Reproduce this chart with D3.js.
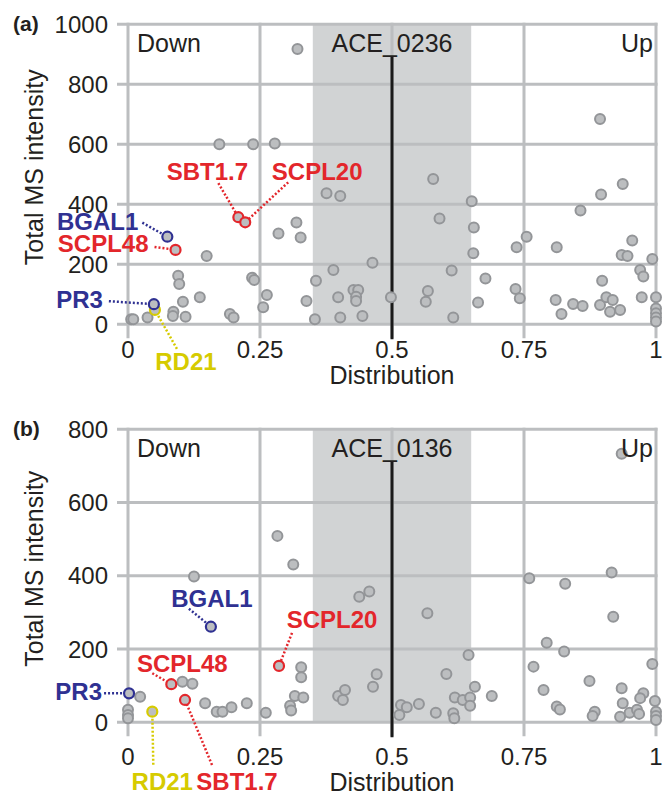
<!DOCTYPE html>
<html>
<head>
<meta charset="utf-8">
<script src="https://cdn.jsdelivr.net/npm/d3@7"></script>
<style>
  body { margin: 0; background: #fff; }
  svg { font-family: "Liberation Sans", Arial, sans-serif; }
</style>
</head>
<body>
<svg id="chart" width="671" height="796"></svg>
<script>
// tick labels
const xTicks = [0, 0.25, 0.5, 0.75, 1];
const yTicksA = [0, 200, 400, 600, 800, 1000];
const yTicksB = [0, 200, 400, 600, 800];

// panel (a) ACE_0236 - other proteins
const distA = [0.321, 0.173, 0.237, 0.278, 0.376, 0.402, 0.894, 0.937, 0.896, 0.578, 0.651,
  0.149, 0.095, 0.097, 0.104, 0.136, 0.086, 0.085, 0.109, 0.037, 0.006, 0.010, 0.193, 0.200,
  0.235, 0.239, 0.263, 0.256, 0.285, 0.319, 0.327, 0.338, 0.356, 0.389, 0.354,
  0.590, 0.655, 0.654, 0.613, 0.463, 0.398, 0.427, 0.436, 0.432, 0.432, 0.402, 0.444, 0.498,
  0.568, 0.564, 0.616, 0.663, 0.677, 0.755, 0.736, 0.734, 0.742, 0.857, 0.812, 0.955, 0.935,
  0.946, 0.993, 0.970, 0.976, 0.898, 0.973, 0.810, 0.821, 0.843, 0.861, 0.894, 0.906, 0.918,
  0.913, 0.932, 1, 1, 1, 1, 1];
const intensityA = [918, 600, 600, 603, 437, 428, 684, 468, 433, 484, 410,
  228, 162, 134, 75, 90, 42, 28, 25, 23, 17, 17, 34, 23,
  155, 148, 98, 57, 303, 339, 289, 78, 145, 181, 17,
  353, 323, 237, 179, 205, 90, 114, 114, 92, 78, 23, 28, 90,
  111, 75, 23, 73, 153, 292, 257, 118, 87, 379, 257, 279, 231,
  228, 218, 181, 159, 145, 90, 81, 34, 68, 61, 64, 90, 81,
  42, 48, 90, 53, 37, 23, 9];

// panel (b) ACE_0136 - other proteins
const distB = [0.283, 0.313, 0.125, 0.935, 0.760, 0.828, 0.916, 0.457, 0.438,
  0.023, 0, 0, 0, 0.103, 0.122, 0.146, 0.168, 0.179, 0.196, 0.225, 0.261, 0.328, 0.328,
  0.316, 0.332, 0.307, 0.309, 0.567, 0.919, 0.793, 0.826, 0.645, 0.471, 0.464, 0.603,
  0.768, 0.993, 0.874, 0.787, 0.935, 0.398, 0.411, 0.407, 0.657, 0.689, 0.619, 0.634,
  0.648, 0.648, 0.517, 0.528, 0.514, 0.551, 0.583, 0.616, 0.618, 0.812, 0.818, 0.884,
  0.880, 0.976, 0.970, 0.937, 0.998, 0.932, 0.950, 0.964, 0.968, 1, 1, 1];
const intensityB = [509, 431, 398, 733, 393, 378, 409, 357, 343,
  70, 34, 20, 11, 111, 105, 52, 29, 29, 41, 52, 26, 150, 123,
  72, 68, 45, 32, 298, 288, 217, 193, 184, 131, 97, 132,
  152, 159, 113, 88, 93, 72, 88, 61, 97, 72, 68, 61,
  68, 45, 47, 41, 20, 50, 26, 25, 11, 43, 35, 29,
  17, 79, 66, 52, 58, 15, 26, 34, 23, 29, 17, 6];

// highlighted proteins (RD21 first so PR3 sits on top of it)
const genes = ["RD21", "SBT1.7", "SCPL20", "BGAL1", "SCPL48", "PR3"];
const geneDistA = [0.051, 0.209, 0.222, 0.0745, 0.090, 0.049];
const geneIntA = [48, 357, 340, 292, 248, 67];
const geneDistB = [0.046, 0.108, 0.286, 0.157, 0.082, 0.002];
const geneIntB = [29, 61, 154, 261, 104, 79];

const geneColor = {"SBT1.7": "#e3262b", "SCPL20": "#e3262b", "SCPL48": "#e3262b",
  "BGAL1": "#2f3192", "PR3": "#2f3192", "RD21": "#d6cb00"};

// label placement, pixel offsets from the point: text (tx,ty), leader start (lx,ly), anchor
const layoutA = {
  "SBT1.7": [-31, -37, -20, -34, "middle"],
  "SCPL20": [72, -42, 43, -40, "middle"],
  "BGAL1": [-29, -7, -25, -14, "end"],
  "SCPL48": [-27, 2, -21, -3, "end"],
  "PR3": [-51, 4, -45, -3, "end"],
  "RD21": [31, 60, 22, 39, "middle"]
};
const layoutB = {
  "SBT1.7": [52, 90, 27, 65, "middle"],
  "SCPL20": [53, -38, 13, -33, "middle"],
  "BGAL1": [1, -20, -22, -18, "middle"],
  "SCPL48": [11, -12, -19, -11, "middle"],
  "PR3": [-27, 7, -25, 0, "end"],
  "RD21": [10, 78, 1, 53, "middle"]
};

const svg = d3.select("#chart");

function drawPanel(cfg) {
  const x = d3.scaleLinear().domain([0, 1]).range([128, 656]);
  const y = d3.scaleLinear().domain([0, cfg.yMax]).range([cfg.y0, cfg.yTop]);
  const g = svg.append("g");

  // shaded middle band
  g.append("rect")
    .attr("x", x(0.35)).attr("y", y(cfg.yMax))
    .attr("width", x(0.65) - x(0.35)).attr("height", y(0) - y(cfg.yMax))
    .attr("fill", "#d1d3d4");

  // grid
  g.selectAll(".hgrid").data(cfg.yTicks).enter().append("line")
    .attr("x1", x(0) - 11).attr("x2", x(1) + 1.5)
    .attr("y1", (d) => y(d)).attr("y2", (d) => y(d))
    .attr("stroke", "#bcbec0").attr("stroke-width", 3);
  g.selectAll(".vgrid").data(xTicks).enter().append("line")
    .attr("x1", (d) => x(d)).attr("x2", (d) => x(d))
    .attr("y1", y(cfg.yMax) - 1.5).attr("y2", y(0) + 14)
    .attr("stroke", "#bcbec0").attr("stroke-width", 3);

  // centre line
  g.append("line")
    .attr("x1", x(0.5)).attr("x2", x(0.5))
    .attr("y1", cfg.yTop + 32).attr("y2", y(0) + 15)
    .attr("stroke", "#1a1a1a").attr("stroke-width", 3);

  // tick labels
  g.selectAll(".ylab").data(cfg.yTicks).enter().append("text")
    .attr("x", 108).attr("y", (d) => y(d)).attr("dy", "0.36em")
    .attr("text-anchor", "end").attr("font-size", 24).attr("fill", "#231f20")
    .text((d) => d);
  g.selectAll(".xlab").data(xTicks).enter().append("text")
    .attr("x", (d) => x(d)).attr("y", cfg.xLabY)
    .attr("text-anchor", "middle").attr("font-size", 24).attr("fill", "#231f20")
    .text((d) => d);

  g.append("text")
    .attr("x", x(0.5)).attr("y", cfg.xLabY + 26)
    .attr("text-anchor", "middle").attr("font-size", 25).attr("fill", "#231f20")
    .text("Distribution");
  g.append("text")
    .attr("transform", "translate(43," + (y(cfg.yMax / 2) - 7) + ") rotate(-90)")
    .attr("text-anchor", "middle").attr("font-size", 25).attr("fill", "#231f20")
    .text("Total MS intensity");
  g.append("text")
    .attr("x", 13).attr("y", cfg.yTop + 7)
    .attr("font-size", 21).attr("font-weight", "bold").attr("fill", "#231f20")
    .text(cfg.letter);

  // other proteins
  const pts = cfg.dist.map((d, i) => [d, cfg.vals[i]]);
  g.selectAll(".pt").data(pts).enter().append("circle")
    .attr("cx", (d) => x(d[0])).attr("cy", (d) => y(d[1])).attr("r", 5)
    .attr("fill", "#bcbec0").attr("stroke", "#939598").attr("stroke-width", 2);

  // highlighted proteins
  const hl = genes.map((n, i) => ({name: n, d: cfg.gDist[i], v: cfg.gInt[i]}));
  g.selectAll(".lead").data(hl).enter().append("line")
    .attr("x1", (d) => x(d.d) + cfg.layout[d.name][2])
    .attr("y1", (d) => y(d.v) + cfg.layout[d.name][3])
    .attr("x2", (d) => x(d.d)).attr("y2", (d) => y(d.v))
    .attr("stroke", (d) => geneColor[d.name]).attr("stroke-width", 2.5)
    .attr("stroke-dasharray", "2,2");
  g.selectAll(".hpt").data(hl).enter().append("circle")
    .attr("cx", (d) => x(d.d)).attr("cy", (d) => y(d.v)).attr("r", 5)
    .attr("fill", "#bcbec0").attr("stroke", (d) => geneColor[d.name]).attr("stroke-width", 2.2);
  g.selectAll(".hlab").data(hl).enter().append("text")
    .attr("x", (d) => x(d.d) + cfg.layout[d.name][0])
    .attr("y", (d) => y(d.v) + cfg.layout[d.name][1])
    .attr("text-anchor", (d) => cfg.layout[d.name][4])
    .attr("font-size", 24).attr("font-weight", "bold")
    .attr("fill", (d) => geneColor[d.name])
    .text((d) => d.name);

  // region labels
  const top = cfg.yTop + 28;
  g.append("text").attr("x", x(0) + 9).attr("y", top)
    .attr("font-size", 25).attr("fill", "#231f20").text("Down");
  g.append("text").attr("x", x(1) - 3).attr("y", top).attr("text-anchor", "end")
    .attr("font-size", 25).attr("fill", "#231f20").text("Up");
  g.append("text").attr("x", x(0.5)).attr("y", top).attr("text-anchor", "middle")
    .attr("font-size", 25).attr("fill", "#231f20").text(cfg.title);
}

drawPanel({letter: "(a)", title: "ACE_0236", yMax: 1000, yTicks: yTicksA,
  y0: 324.3, yTop: 24.3, xLabY: 358, dist: distA, vals: intensityA,
  gDist: geneDistA, gInt: geneIntA, layout: layoutA});
drawPanel({letter: "(b)", title: "ACE_0136", yMax: 800, yTicks: yTicksB,
  y0: 722.3, yTop: 429.3, xLabY: 765, dist: distB, vals: intensityB,
  gDist: geneDistB, gInt: geneIntB, layout: layoutB});
</script>
</body>
</html>
